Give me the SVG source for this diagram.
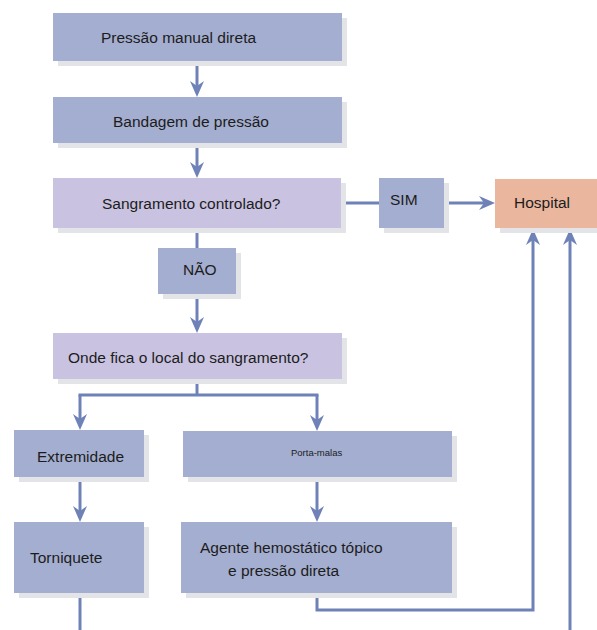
<svg xmlns="http://www.w3.org/2000/svg" width="597" height="630" viewBox="0 0 597 630">
<defs>
<marker id="ah" viewBox="0 0 16 14" markerWidth="16" markerHeight="14" refX="12" refY="7" orient="auto" markerUnits="userSpaceOnUse">
<path d="M0,0 L16,7 L0,14 L5,7 z" fill="#6f82b8"/>
</marker>
</defs>
<style>
.sh{fill:#e3e4e8}
.b{fill:#a4aed0}
.l{fill:#c9c3e1}
.h{fill:#eab69e}
.t{font-family:"Liberation Sans",Arial,sans-serif;font-size:15.5px;fill:#1c1c1c}
.c{fill:none;stroke:#6f82b8;stroke-width:3}
.a{marker-end:url(#ah)}
</style>
<rect width="597" height="630" fill="#ffffff"/>
<g id="connectors">
<line class="c a" x1="197" y1="61" x2="197" y2="93"/>
<line class="c a" x1="197" y1="143" x2="197" y2="174"/>
<line class="c" x1="341" y1="203" x2="379" y2="203"/>
<line class="c a" x1="444" y1="203" x2="491" y2="203"/>
<line class="c" x1="197" y1="228" x2="197" y2="248"/>
<line class="c a" x1="197" y1="294" x2="197" y2="329"/>
<polyline class="c" points="197,379 197,395"/>
<polyline class="c a" points="80,395 80,426"/>
<polyline class="c a" points="317,395 317,427"/>
<line class="c" x1="78.5" y1="395" x2="318.5" y2="395"/>
<line class="c a" x1="80" y1="477" x2="80" y2="518"/>
<line class="c a" x1="317" y1="477" x2="317" y2="518"/>
<polyline class="c a" points="317,593 317,610 533,610 533,233"/>
<line class="c" x1="80" y1="593" x2="80" y2="630"/>
<line class="c a" x1="570" y1="630" x2="570" y2="233"/>
</g>
<g id="n1">
<rect class="sh" x="58" y="18" width="289" height="48"/>
<rect class="b" x="53" y="13" width="289" height="48"/>
<text class="t" x="101" y="43">Pressão manual direta</text>
</g>
<g id="n2">
<rect class="sh" x="58" y="102" width="289" height="46"/>
<rect class="b" x="53" y="97" width="289" height="46"/>
<text class="t" x="113" y="127">Bandagem de pressão</text>
</g>
<g id="n3">
<rect class="sh" x="58" y="183" width="288" height="50"/>
<rect class="l" x="53" y="178" width="288" height="50"/>
<text class="t" x="102" y="209">Sangramento controlado?</text>
</g>
<g id="sim">
<rect class="sh" x="384" y="183" width="65" height="50"/>
<rect class="b" x="379" y="178" width="65" height="50"/>
<text class="t" x="390" y="205">SIM</text>
</g>
<g id="hospital">
<rect class="sh" x="500" y="184" width="97" height="49"/>
<rect class="h" x="495" y="179" width="102" height="49"/>
<text class="t" x="514" y="208">Hospital</text>
</g>
<g id="nao">
<rect class="sh" x="163" y="253" width="78" height="46"/>
<rect class="b" x="158" y="248" width="78" height="46"/>
<text class="t" x="183" y="275">NÃO</text>
</g>
<g id="n4">
<rect class="sh" x="58" y="338" width="289" height="46"/>
<rect class="l" x="53" y="333" width="289" height="46"/>
<text class="t" x="68" y="363">Onde fica o local do sangramento?</text>
</g>
<g id="extremidade">
<rect class="sh" x="19" y="435" width="130" height="47"/>
<rect class="b" x="14" y="430" width="130" height="47"/>
<text class="t" x="37" y="462">Extremidade</text>
</g>
<g id="portamalas">
<rect class="sh" x="188" y="436" width="269" height="46"/>
<rect class="b" x="183" y="431" width="269" height="46"/>
<text class="t" x="291" y="456" style="font-size:9.5px">Porta-malas</text>
</g>
<g id="torniquete">
<rect class="sh" x="19" y="527" width="130" height="71"/>
<rect class="b" x="14" y="522" width="130" height="71"/>
<text class="t" x="30" y="563">Torniquete</text>
</g>
<g id="agente">
<rect class="sh" x="186" y="527" width="271" height="71"/>
<rect class="b" x="181" y="522" width="271" height="71"/>
<text class="t" x="200" y="553">Agente hemostático tópico</text>
<text class="t" x="228" y="576">e pressão direta</text>
</g>
</svg>
